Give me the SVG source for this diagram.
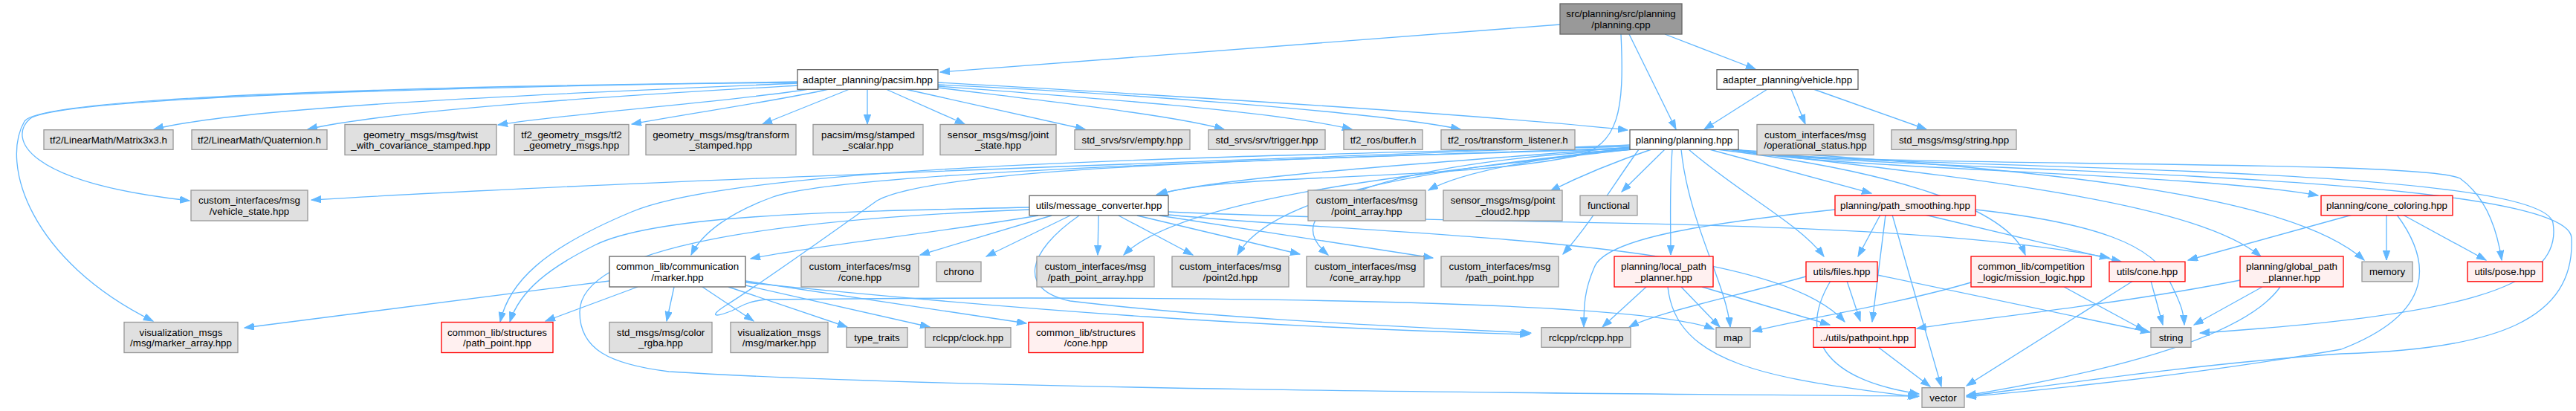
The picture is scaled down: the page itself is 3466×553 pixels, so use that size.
<svg xmlns="http://www.w3.org/2000/svg" width="3466" height="553" viewBox="0 0 3466 553">
<defs>
<style>
.n rect{stroke-width:1.33}
.g rect{fill:#e0e0e0;stroke:#999999}
.w rect{fill:#ffffff;stroke:#666666}
.r rect{fill:#fff0f0;stroke:#ff0000}
.root rect{fill:#999999;stroke:#666666}
.n text{font-family:"Liberation Sans",Arial,sans-serif;font-size:13.33px;fill:#000;text-anchor:middle}
#edges path{fill:none;stroke:#63b8ff;stroke-width:1.33;marker-end:url(#ah)}
</style>
<marker id="ah" markerUnits="userSpaceOnUse" markerWidth="14" markerHeight="10" refX="13" refY="4.7" orient="auto">
<path d="M0,0 L13,4.7 L0,9.4 z" fill="#63b8ff" stroke="#63b8ff" stroke-width="1"/>
</marker>
</defs>
<rect width="3466" height="553" fill="#ffffff"/>
<g id="edges">
<path d="M2099,33 L1265,97"/>
<path d="M2192,46 L2255,174"/>
<path d="M2240,46 L2362,93"/>
<path d="M2181,46 C2186,150 2178,195 2120,210 C1950,245 1650,232 1558,262"/>
<path d="M1073,112 C850,122 340,140 207,174"/>
<path d="M1073,115 C900,125 540,145 414,174"/>
<path d="M1088,120 C1000,135 770,152 670,168"/>
<path d="M1115,120 C1050,135 930,152 850,167"/>
<path d="M1143,120 L1026,167"/>
<path d="M1167,120 L1167,167"/>
<path d="M1192,120 L1298,167"/>
<path d="M1218,120 L1460,174"/>
<path d="M1262,118 C1400,135 1580,155 1647,174"/>
<path d="M1262,116 C1450,130 1720,150 1819,174"/>
<path d="M1262,114 C1500,125 1850,150 1965,174"/>
<path d="M1262,111 C1600,130 2000,155 2190,175"/>
<path d="M1073,110 C700,116 80,128 40,160 C12,185 30,245 255,270"/>
<path d="M1073,111 C700,114 60,126 33,163 C0,220 40,350 206,432"/>
<path d="M2378,120 L2293,174"/>
<path d="M2410,120 L2429,167"/>
<path d="M2440,120 L2592,174"/>
<path d="M2193,195 C1800,212 900,240 419,269"/>
<path d="M2193,198 C2000,215 1650,235 1556,262"/>
<path d="M2193,199 C1700,215 1130,232 1040,265 C985,285 945,312 930,343"/>
<path d="M2193,197 C1600,212 1000,222 850,285 C730,335 685,380 673,433"/>
<path d="M2193,200 C1700,215 1260,225 1180,270 C1110,320 1010,390 975,412 C955,425 960,428 985,418 C1000,410 1010,405 1030,403 C1500,398 2200,400 2306,443"/>
<path d="M2193,199 C2050,215 1960,235 1922,256"/>
<path d="M2222,201 C2160,222 2120,240 2086,257"/>
<path d="M2240,201 L2182,258"/>
<path d="M2300,201 L2518,260"/>
<path d="M2330,201 C2450,228 2950,232 3119,263"/>
<path d="M2193,201 C1900,235 1590,265 1512,343"/>
<path d="M2196,201 C1900,228 1710,265 1665,343"/>
<path d="M2200,201 C1900,215 1700,270 1787,343"/>
<path d="M2205,201 C2170,250 2140,300 2103,342"/>
<path d="M2250,201 C2246,260 2248,300 2248,343"/>
<path d="M2262,201 C2272,300 2322,380 2328,440"/>
<path d="M2272,201 C2340,260 2420,300 2454,345"/>
<path d="M2310,201 C2550,230 2700,280 2725,343"/>
<path d="M2322,201 C2650,240 2950,270 3042,345"/>
<path d="M2326,201 C2750,228 3080,260 3181,350"/>
<path d="M2334,201 C2450,228 3250,212 3310,240 C3345,265 3360,310 3366,350"/>
<path d="M2336,201 C2450,230 3420,215 3435,300 C3450,390 3300,425 2960,448"/>
<path d="M2338,201 C2450,232 3455,225 3460,320 C3465,430 3360,470 3150,476 C2950,490 2750,520 2646,533"/>
<path d="M1397,290 C1250,315 1100,330 1010,348"/>
<path d="M1415,290 L1238,343"/>
<path d="M1440,290 L1327,345"/>
<path d="M1478,290 L1477,343"/>
<path d="M1505,290 L1605,343"/>
<path d="M1530,290 L1749,342"/>
<path d="M1560,290 L1928,347"/>
<path d="M1385,279 C1100,285 880,290 800,330 C740,360 700,390 686,433"/>
<path d="M1385,282 C1050,295 780,330 780,420 C780,470 820,490 900,500 C1300,525 2200,530 2582,533"/>
<path d="M1452,290 C1380,340 1370,390 1440,405 C1650,430 1900,440 2060,448"/>
<path d="M1572,285 C2000,305 2550,290 2838,347"/>
<path d="M1572,289 C1900,320 2380,320 2482,433"/>
<path d="M820,378 L329,441"/>
<path d="M858,386 L734,432"/>
<path d="M907,386 L897,432"/>
<path d="M945,386 L1014,432"/>
<path d="M980,386 L1140,440"/>
<path d="M1003,384 L1251,440"/>
<path d="M1003,378 L1381,435"/>
<path d="M1003,380 C1400,420 1700,440 2058,450"/>
<path d="M2215,386 L2156,440"/>
<path d="M2262,386 L2314,440"/>
<path d="M2290,386 L2462,437"/>
<path d="M2244,386 C2255,490 2380,510 2580,534"/>
<path d="M2430,372 C2330,400 2230,420 2192,440"/>
<path d="M2485,378 L2503,432"/>
<path d="M2526,370 L2893,447"/>
<path d="M2463,378 C2420,450 2450,510 2582,530"/>
<path d="M2652,380 C2550,410 2420,430 2358,446"/>
<path d="M2777,386 L2886,445"/>
<path d="M2894,378 L2910,437"/>
<path d="M2870,378 L2646,519"/>
<path d="M3014,377 C2850,410 2650,430 2579,442"/>
<path d="M3044,386 L2952,437"/>
<path d="M3068,386 C3030,440 2900,490 2646,532"/>
<path d="M3165,289 L2944,350"/>
<path d="M3211,289 L3211,350"/>
<path d="M3233,289 L3345,350"/>
<path d="M3225,289 C3270,350 3280,420 3150,470 C2980,500 2800,520 2646,534"/>
<path d="M2469,282 C2300,300 2160,320 2145,360 C2132,390 2131,410 2131,440"/>
<path d="M2530,289 L2500,345"/>
<path d="M2537,289 L2519,433"/>
<path d="M2546,289 L2612,520"/>
<path d="M2590,289 L2854,352"/>
<path d="M2658,282 C2820,300 2900,330 2920,380 C2935,410 2938,420 2939,437"/>
<path d="M2527,467 L2597,520"/>
</g>
<g id="n_root" class="n root"><rect x="2099" y="5" width="164" height="41"/><text x="2181" y="23">src/planning/src/planning</text><text x="2181" y="37.8">/planning.cpp</text></g>
<g id="n_pacsim" class="n w"><rect x="1073" y="93.7" width="189" height="26.6"/><text x="1167.5" y="111.7">adapter_planning/pacsim.hpp</text></g>
<g id="n_vehicle" class="n w"><rect x="2310" y="93.7" width="190" height="26.6"/><text x="2405" y="111.7">adapter_planning/vehicle.hpp</text></g>
<g id="n_mat" class="n g"><rect x="59" y="174.7" width="174" height="26.6"/><text x="146" y="192.7">tf2/LinearMath/Matrix3x3.h</text></g>
<g id="n_quat" class="n g"><rect x="258" y="174.7" width="182" height="26.6"/><text x="349" y="192.7">tf2/LinearMath/Quaternion.h</text></g>
<g id="n_twist" class="n g"><rect x="464" y="167.5" width="204" height="41"/><text x="566" y="185.5">geometry_msgs/msg/twist</text><text x="566" y="200.3">_with_covariance_stamped.hpp</text></g>
<g id="n_tf2gm" class="n g"><rect x="692" y="167.5" width="154" height="41"/><text x="769" y="185.5">tf2_geometry_msgs/tf2</text><text x="769" y="200.3">_geometry_msgs.hpp</text></g>
<g id="n_tfst" class="n g"><rect x="869" y="167.5" width="202" height="41"/><text x="970" y="185.5">geometry_msgs/msg/transform</text><text x="970" y="200.3">_stamped.hpp</text></g>
<g id="n_stsc" class="n g"><rect x="1094" y="167.5" width="148" height="41"/><text x="1168" y="185.5">pacsim/msg/stamped</text><text x="1168" y="200.3">_scalar.hpp</text></g>
<g id="n_joint" class="n g"><rect x="1265" y="167.5" width="156" height="41"/><text x="1343" y="185.5">sensor_msgs/msg/joint</text><text x="1343" y="200.3">_state.hpp</text></g>
<g id="n_empty" class="n g"><rect x="1446" y="174.7" width="155" height="26.6"/><text x="1523.5" y="192.7">std_srvs/srv/empty.hpp</text></g>
<g id="n_trig" class="n g"><rect x="1626" y="174.7" width="157" height="26.6"/><text x="1704.5" y="192.7">std_srvs/srv/trigger.hpp</text></g>
<g id="n_buf" class="n g"><rect x="1808" y="174.7" width="106" height="26.6"/><text x="1861" y="192.7">tf2_ros/buffer.h</text></g>
<g id="n_tl" class="n g"><rect x="1939" y="174.7" width="180" height="26.6"/><text x="2029" y="192.7">tf2_ros/transform_listener.h</text></g>
<g id="n_planning" class="n w"><rect x="2193" y="174.7" width="146" height="26.6"/><text x="2266" y="192.7">planning/planning.hpp</text></g>
<g id="n_opstat" class="n g"><rect x="2364" y="167.5" width="157" height="41"/><text x="2442.5" y="185.5">custom_interfaces/msg</text><text x="2442.5" y="200.3">/operational_status.hpp</text></g>
<g id="n_strmsg" class="n g"><rect x="2545" y="174.7" width="168" height="26.6"/><text x="2629" y="192.7">std_msgs/msg/string.hpp</text></g>
<g id="n_vstate" class="n g"><rect x="257" y="256" width="157" height="41"/><text x="335.5" y="274">custom_interfaces/msg</text><text x="335.5" y="288.8">/vehicle_state.hpp</text></g>
<g id="n_msgconv" class="n w"><rect x="1385" y="263.2" width="187" height="26.6"/><text x="1478.5" y="281.2">utils/message_converter.hpp</text></g>
<g id="n_ptarr" class="n g"><rect x="1760" y="256" width="158" height="41"/><text x="1839" y="274">custom_interfaces/msg</text><text x="1839" y="288.8">/point_array.hpp</text></g>
<g id="n_pc2" class="n g"><rect x="1942" y="256" width="160" height="41"/><text x="2022" y="274">sensor_msgs/msg/point</text><text x="2022" y="288.8">_cloud2.hpp</text></g>
<g id="n_func" class="n g"><rect x="2126" y="263.2" width="77" height="26.6"/><text x="2164.5" y="281.2">functional</text></g>
<g id="n_smooth" class="n r"><rect x="2469" y="263.2" width="189" height="26.6"/><text x="2563.5" y="281.2">planning/path_smoothing.hpp</text></g>
<g id="n_ccolor" class="n r"><rect x="3123" y="263.2" width="177" height="26.6"/><text x="3211.5" y="281.2">planning/cone_coloring.hpp</text></g>
<g id="n_marker" class="n w"><rect x="820" y="345" width="183" height="41"/><text x="911.5" y="363">common_lib/communication</text><text x="911.5" y="377.8">/marker.hpp</text></g>
<g id="n_cicone" class="n g"><rect x="1078" y="345" width="158" height="41"/><text x="1157" y="363">custom_interfaces/msg</text><text x="1157" y="377.8">/cone.hpp</text></g>
<g id="n_chrono" class="n g"><rect x="1260" y="352.2" width="60" height="26.6"/><text x="1290" y="370.2">chrono</text></g>
<g id="n_ppa" class="n g"><rect x="1395" y="345" width="158" height="41"/><text x="1474" y="363">custom_interfaces/msg</text><text x="1474" y="377.8">/path_point_array.hpp</text></g>
<g id="n_p2d" class="n g"><rect x="1577" y="345" width="157" height="41"/><text x="1655.5" y="363">custom_interfaces/msg</text><text x="1655.5" y="377.8">/point2d.hpp</text></g>
<g id="n_carr" class="n g"><rect x="1758" y="345" width="158" height="41"/><text x="1837" y="363">custom_interfaces/msg</text><text x="1837" y="377.8">/cone_array.hpp</text></g>
<g id="n_cipp" class="n g"><rect x="1939" y="345" width="158" height="41"/><text x="2018" y="363">custom_interfaces/msg</text><text x="2018" y="377.8">/path_point.hpp</text></g>
<g id="n_local" class="n r"><rect x="2172" y="345" width="133" height="41"/><text x="2238.5" y="363">planning/local_path</text><text x="2238.5" y="377.8">_planner.hpp</text></g>
<g id="n_files" class="n r"><rect x="2430" y="352.2" width="96" height="26.6"/><text x="2478" y="370.2">utils/files.hpp</text></g>
<g id="n_mission" class="n r"><rect x="2652" y="345" width="162" height="41"/><text x="2733" y="363">common_lib/competition</text><text x="2733" y="377.8">_logic/mission_logic.hpp</text></g>
<g id="n_ucone" class="n r"><rect x="2838" y="352.2" width="102" height="26.6"/><text x="2889" y="370.2">utils/cone.hpp</text></g>
<g id="n_global" class="n r"><rect x="3014" y="345" width="139" height="41"/><text x="3083.5" y="363">planning/global_path</text><text x="3083.5" y="377.8">_planner.hpp</text></g>
<g id="n_memory" class="n g"><rect x="3178" y="352.2" width="68" height="26.6"/><text x="3212" y="370.2">memory</text></g>
<g id="n_pose" class="n r"><rect x="3320" y="352.2" width="101" height="26.6"/><text x="3370.5" y="370.2">utils/pose.hpp</text></g>
<g id="n_marr" class="n g"><rect x="167" y="433.5" width="153" height="41"/><text x="243.5" y="451.5">visualization_msgs</text><text x="243.5" y="466.3">/msg/marker_array.hpp</text></g>
<g id="n_spp" class="n r"><rect x="594" y="433.5" width="150" height="41"/><text x="669" y="451.5">common_lib/structures</text><text x="669" y="466.3">/path_point.hpp</text></g>
<g id="n_rgba" class="n g"><rect x="820" y="433.5" width="138" height="41"/><text x="889" y="451.5">std_msgs/msg/color</text><text x="889" y="466.3">_rgba.hpp</text></g>
<g id="n_vmark" class="n g"><rect x="983" y="433.5" width="131" height="41"/><text x="1048.5" y="451.5">visualization_msgs</text><text x="1048.5" y="466.3">/msg/marker.hpp</text></g>
<g id="n_tt" class="n g"><rect x="1139" y="440.7" width="82" height="26.6"/><text x="1180" y="458.7">type_traits</text></g>
<g id="n_clock" class="n g"><rect x="1245" y="440.7" width="115" height="26.6"/><text x="1302.5" y="458.7">rclcpp/clock.hpp</text></g>
<g id="n_scone" class="n r"><rect x="1384" y="433.5" width="154" height="41"/><text x="1461" y="451.5">common_lib/structures</text><text x="1461" y="466.3">/cone.hpp</text></g>
<g id="n_rclcpp" class="n g"><rect x="2074" y="440.7" width="120" height="26.6"/><text x="2134" y="458.7">rclcpp/rclcpp.hpp</text></g>
<g id="n_map" class="n g"><rect x="2309" y="440.7" width="46" height="26.6"/><text x="2332" y="458.7">map</text></g>
<g id="n_pathpoint" class="n r"><rect x="2440" y="440.7" width="137" height="26.6"/><text x="2508.5" y="458.7">../utils/pathpoint.hpp</text></g>
<g id="n_string" class="n g"><rect x="2894" y="440.7" width="54" height="26.6"/><text x="2921" y="458.7">string</text></g>
<g id="n_vector" class="n g"><rect x="2586" y="521.7" width="57" height="26.6"/><text x="2614.5" y="539.7">vector</text></g>
</svg>
